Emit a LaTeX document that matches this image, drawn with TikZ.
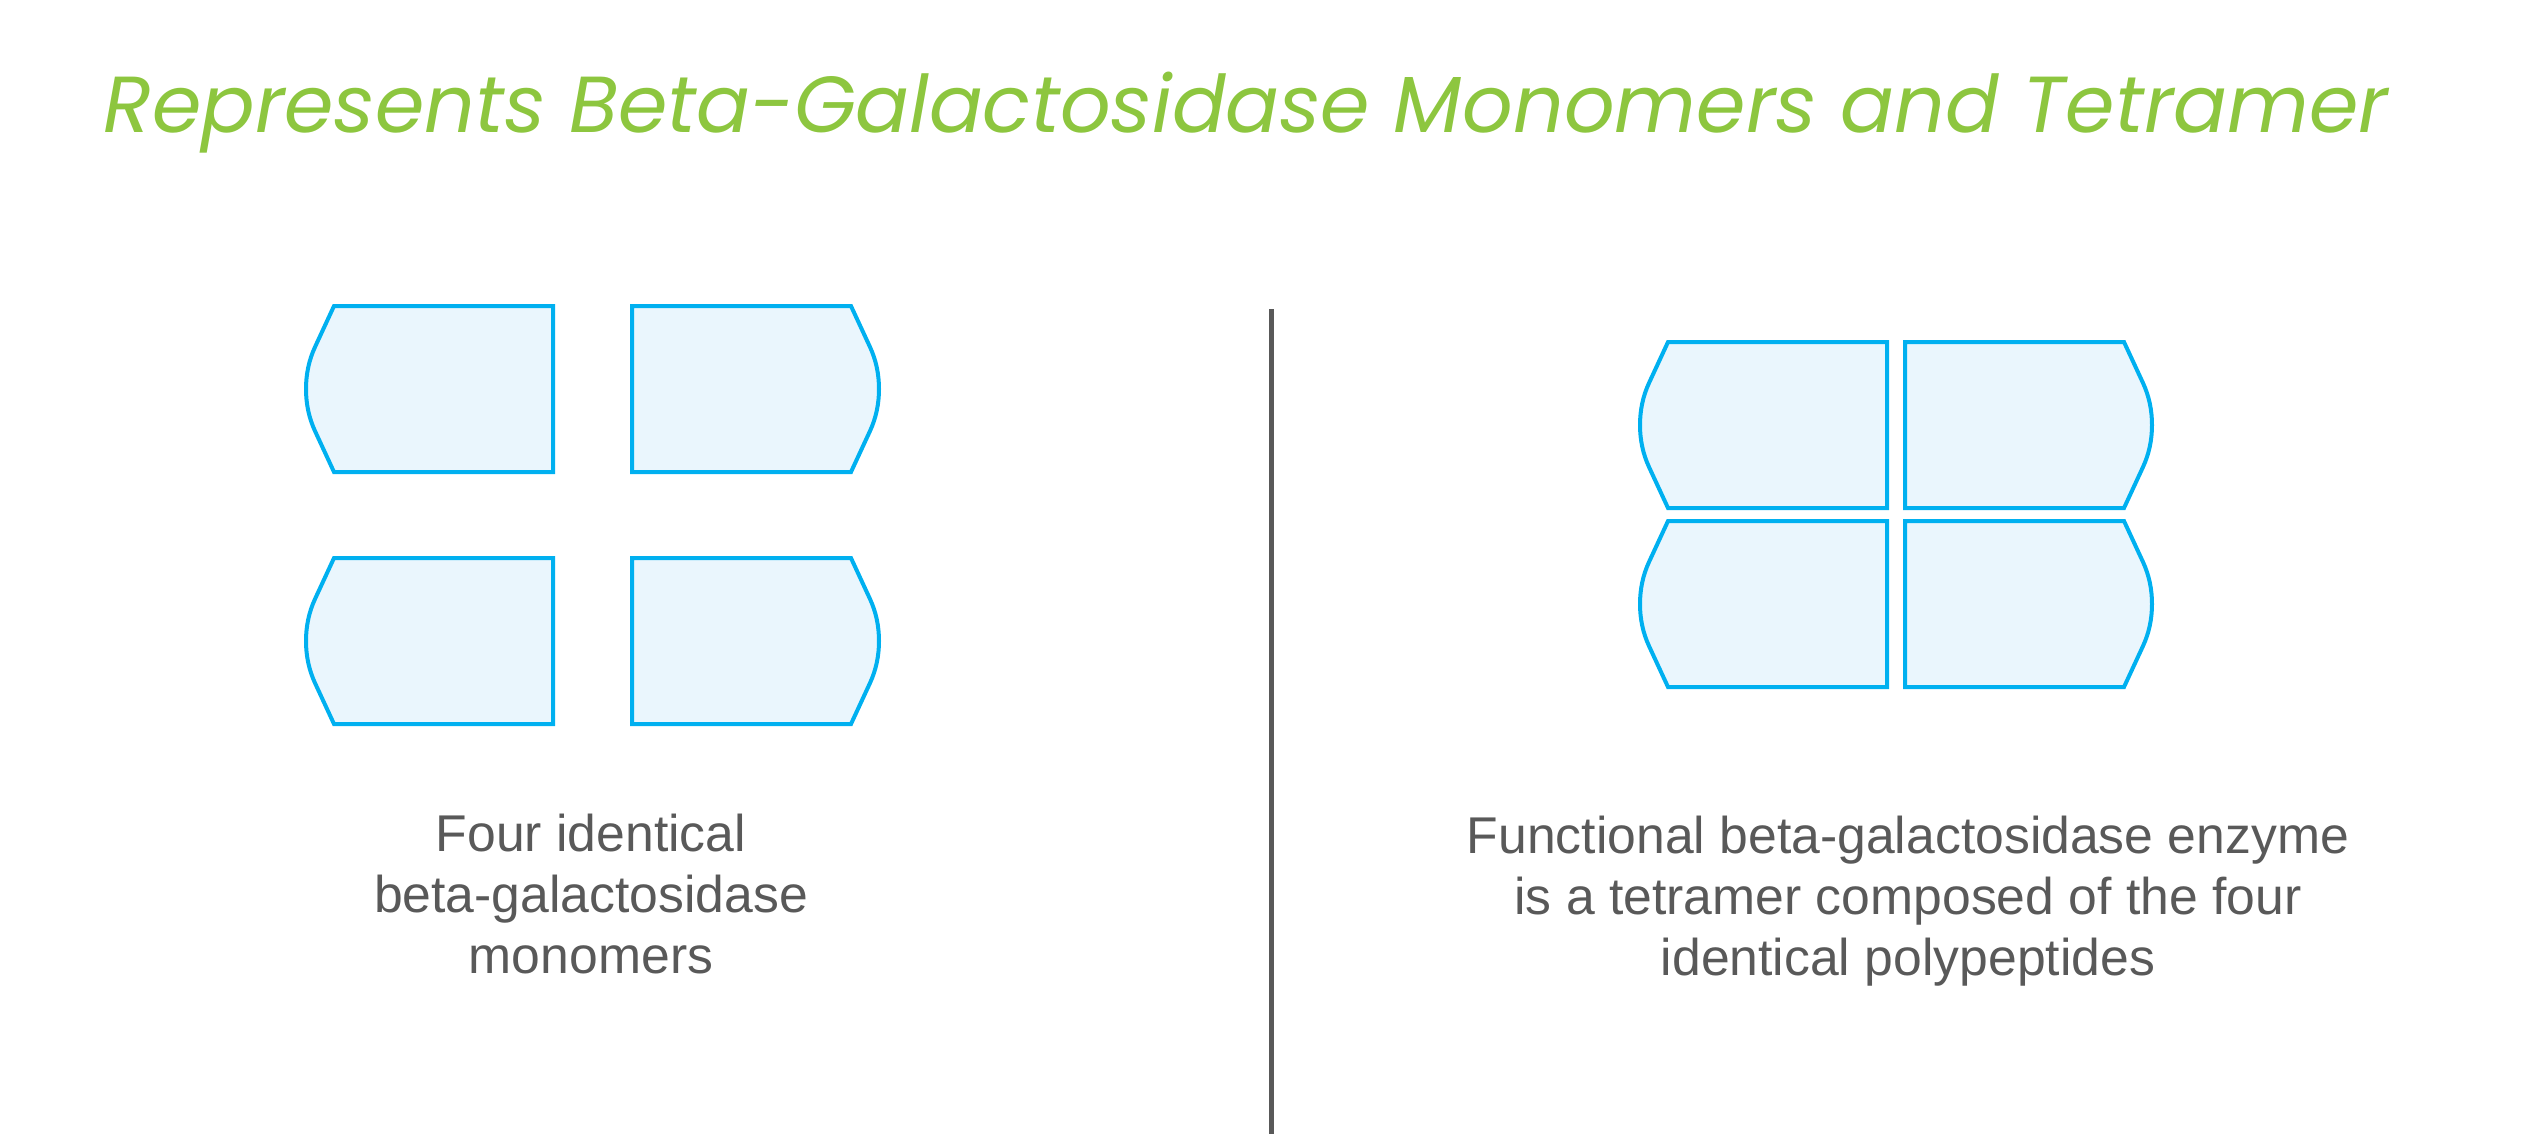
\documentclass[tikz,border=0pt]{standalone}
\usepackage{fontspec}
\setmainfont{Liberation Sans}
\newfontfamily\titlefont{Poppins}
\usepackage{xcolor}
\usepackage{tikz}
\usetikzlibrary{positioning}

\definecolor{titlegreen}{HTML}{8DC63F}
\definecolor{monoblue}{HTML}{00B0F0}
\definecolor{monofill}{HTML}{EAF6FD}
\definecolor{textgray}{HTML}{595959}

\begin{document}
\begin{tikzpicture}[
                    x=0.01cm, y=-0.01cm,
                    title/.style={font=\titlefont\itshape\fontsize{22.6}{27}\selectfont, text=titlegreen, inner sep=0pt},
                    caption/.style={font=\fontsize{14.7}{17.3}\selectfont, text=textgray, align=center, inner sep=0pt},
                    divider/.style={draw=textgray, line width=0.05cm},
                    mono/.pic={
                        \draw[draw=monoblue, fill=monofill, line width=0.04cm, line join=miter]
                            (0,0) -- (-19,41) .. controls (-25,54) and (-28,68) .. (-28,83)
                            .. controls (-28,98) and (-25,112) .. (-19,125) -- (0,166)
                            -- (219,166) -- (219,0) -- cycle;
                    }
                ]
                    \useasboundingbox (0,0) rectangle (2538,1147);

                    % Title
                    \node[title, anchor=base west] (Title) at (103,132) {Represents Beta-Galactosidase Monomers and Tetramer};

                    % Monomers
                    \pic (MonoA) at (334,306) {mono};
                    \pic[xscale=-1] (MonoB) at (851,306) {mono};
                    \pic (MonoC) at (334,558) {mono};
                    \pic[xscale=-1] (MonoD) at (851,558) {mono};

                    % Tetramer
                    \pic (TetA) at (1668,342) {mono};
                    \pic[xscale=-1] (TetB) at (2124,342) {mono};
                    \pic (TetC) at (1668,521) {mono};
                    \pic[xscale=-1] (TetD) at (2124,521) {mono};

                    % Divider
                    \coordinate (DivTop) at (1271,309);
                    \coordinate (DivBot) at (1271,1134);
                    \draw[divider] (DivTop) -- (DivBot);

                    % Captions
                    \node[caption, anchor=base] (MonoText) at (591,973) {Four identical\\beta-galactosidase\\monomers};
                    \node[caption, anchor=base] (TetText) at (1908,975) {Functional beta-galactosidase enzyme\\is a tetramer composed of the four\\identical polypeptides};
                \end{tikzpicture}
\end{document}
